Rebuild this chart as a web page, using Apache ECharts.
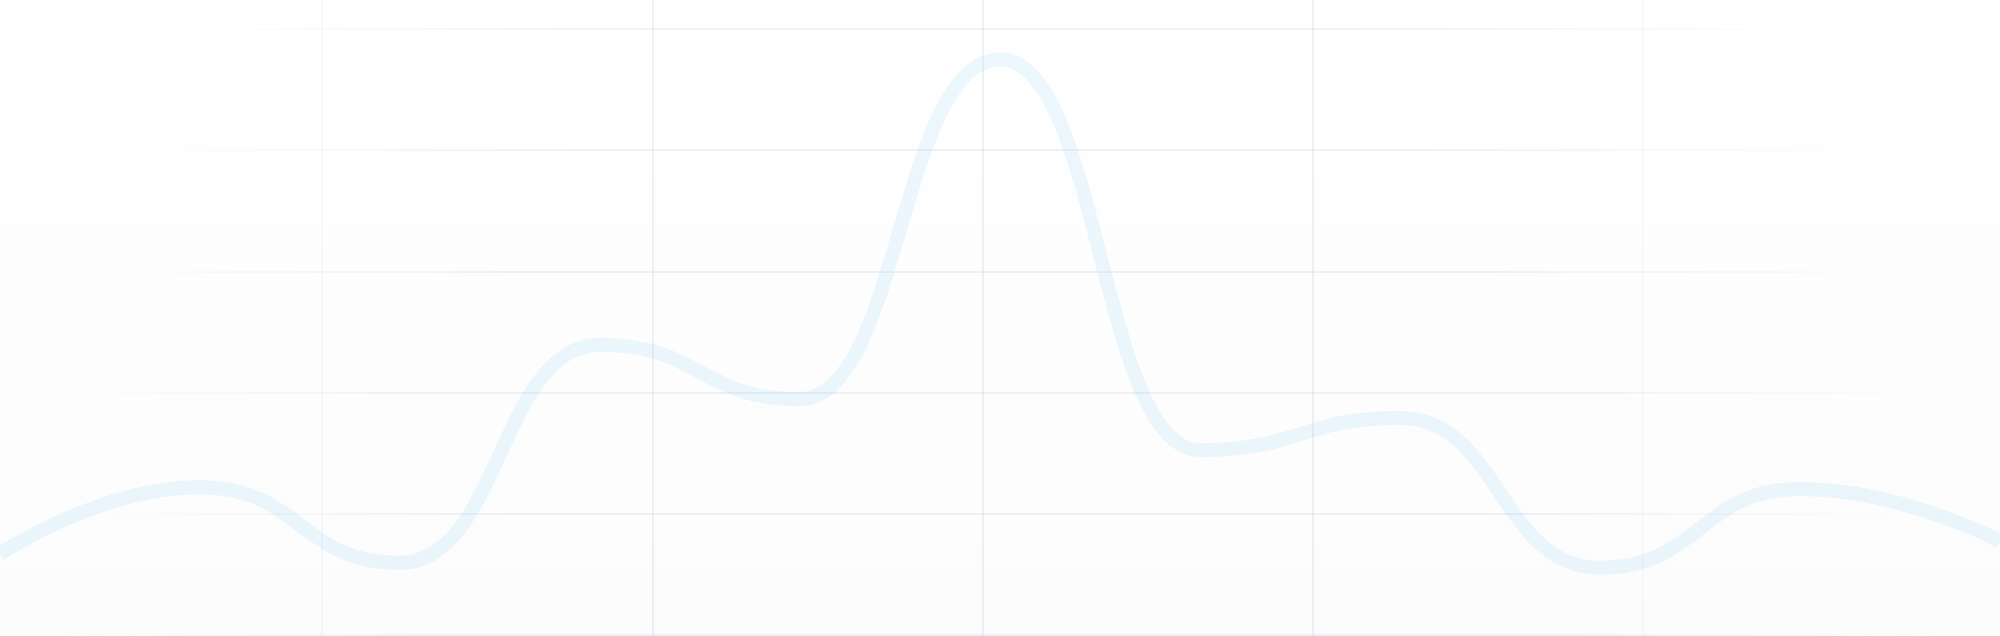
<!DOCTYPE html>
<html lang="en">
<head>
    <meta charset="UTF-8">
    <title>line background</title>
    <script src="https://cdn.jsdelivr.net/npm/echarts@6/dist/echarts.min.js"></script>
    <style>
        html, body { margin: 0; padding: 0; background: #fff; }
        #main { width: 2000px; height: 636px; }
    </style>
</head>
<body>
<div id="main"></div>
<script type="text/javascript">
    // data
    var categories = ['1', '2', '3', '4', '5', '6', '7', '8', '9', '10', '11'];
    var values = [13.4, 24.4, 11.9, 47.9, 38.9, 95.0, 30.5, 35.8, 11.1, 24.1, 15.5];
    // y ticks for the horizontal grid lines, x ticks for the vertical ones
    var yTicks = [0, 20, 40, 60, 80, 100];
    var xTicks = [0, 1, 2, 3, 4];

    var gridColor = 'rgba(200,206,220,0.28)';
    var clear = 'rgba(200,206,220,0)';

    // horizontal lines fade towards both sides, the top ones a bit more
    function fadeH(f0, f1) {
        return new echarts.graphic.LinearGradient(0, 0, 1, 0, [
            { offset: 0, color: clear },
            { offset: f0, color: clear },
            { offset: f1, color: gridColor },
            { offset: 1 - f1, color: gridColor },
            { offset: 1 - f0, color: clear },
            { offset: 1, color: clear }
        ]);
    }
    var hColors = [fadeH(0.03, 0.24), fadeH(0.04, 0.26), fadeH(0.03, 0.24), fadeH(0.035, 0.26), fadeH(0.065, 0.3), fadeH(0.085, 0.34)];
    var vColors = ['rgba(200,206,220,0.12)', gridColor, gridColor, gridColor, 'rgba(200,206,220,0.12)'];

    var myChart = echarts.init(document.getElementById('main'));

    myChart.setOption({
        backgroundColor: new echarts.graphic.LinearGradient(0, 0, 0, 1, [
            { offset: 0, color: '#ffffff' },
            { offset: 1, color: '#fcfcfc' }
        ]),
        animation: false,
        grid: [
            // line grid runs past both edges of the page
            { left: -82, right: -46, top: 29, bottom: 1 },
            // horizontal lines
            { left: 0, right: 0, top: 29, bottom: 1 },
            // vertical lines
            { left: 322, right: 357, top: 0, bottom: 0 }
        ],
        xAxis: [
            { type: 'category', gridIndex: 0, data: categories, boundaryGap: false, show: false },
            { type: 'value', gridIndex: 1, min: 0, max: 1, show: false },
            {
                type: 'value', gridIndex: 2, min: xTicks[0], max: xTicks[xTicks.length - 1], interval: 1,
                axisLine: { show: false }, axisTick: { show: false }, axisLabel: { show: false },
                splitLine: { show: true, lineStyle: { color: vColors, width: 2 } }
            }
        ],
        yAxis: [
            { type: 'value', gridIndex: 0, min: 0, max: 100, show: false },
            {
                type: 'value', gridIndex: 1, min: yTicks[0], max: yTicks[yTicks.length - 1], interval: 20,
                axisLine: { show: false }, axisTick: { show: false }, axisLabel: { show: false },
                splitLine: { show: true, lineStyle: { color: hColors, width: 2 } }
            },
            { type: 'value', gridIndex: 2, min: 0, max: 1, show: false }
        ],
        series: [
            {
                type: 'line',
                xAxisIndex: 0,
                yAxisIndex: 0,
                data: values,
                smooth: true,
                smoothMonotone: 'x',
                symbol: 'none',
                z: 5,
                lineStyle: {
                    color: 'rgba(120,200,250,0.14)',
                    width: 14
                }
            }
        ]
    });
</script>
</body>
</html>
